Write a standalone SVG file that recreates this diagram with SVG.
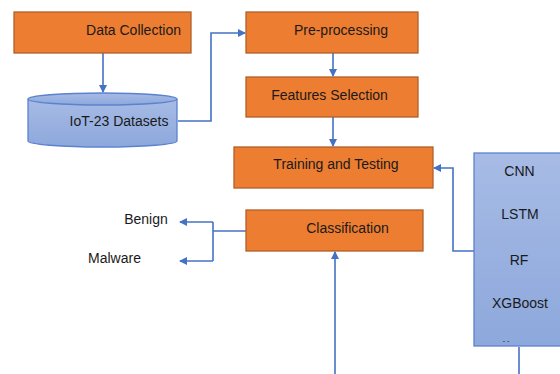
<svg xmlns="http://www.w3.org/2000/svg" width="560" height="374" viewBox="0 0 560 374">
<defs>
<linearGradient id="blueg" x1="0" y1="0" x2="0" y2="1">
<stop offset="0" stop-color="#A7BBE5"/>
<stop offset="1" stop-color="#8DA8DC"/>
</linearGradient>
<marker id="ah" markerWidth="8" markerHeight="8" refX="7" refY="4" orient="auto" markerUnits="userSpaceOnUse">
<path d="M0,0 L8,4 L0,8 Z" fill="#4472C4"/>
</marker>
<style>
.box{fill:#ED7D31;stroke:#B0602A;stroke-width:1.3}
.blue{fill:url(#blueg);stroke:#5B82CF;stroke-width:1.3}
.t{font-family:"Liberation Sans",Arial,sans-serif;font-size:14px;fill:#1a1a1a;text-anchor:middle}
.c{fill:none;stroke:#4472C4;stroke-width:1.6}
</style>
</defs>
<rect width="560" height="374" fill="#ffffff"/>
<g id="connectors">
<path class="c" d="M103,53 V92" marker-end="url(#ah)"/>
<path class="c" d="M178,121 H211 V33 H245" marker-end="url(#ah)"/>
<path class="c" d="M333,53 V76" marker-end="url(#ah)"/>
<path class="c" d="M333,117 V146" marker-end="url(#ah)"/>
<path class="c" d="M474,251 H453 V168 H434" marker-end="url(#ah)"/>
<path class="c" d="M519,347 V374"/>
<path class="c" d="M335,374 V252" marker-end="url(#ah)"/>
<path class="c" d="M246,231 H213"/>
<path class="c" d="M213,222 V261"/>
<path class="c" d="M213,222 H180" marker-end="url(#ah)"/>
<path class="c" d="M213,261 H180" marker-end="url(#ah)"/>
</g>
<g id="data-collection">
<rect class="box" x="14" y="12" width="177" height="41"/>
<text class="t" x="133.5" y="35">Data Collection</text>
</g>
<g id="iot23-datasets">
<path class="blue" d="M28,99 V141 A74.5,6 0 0 0 177,141 V99"/>
<ellipse class="blue" cx="102.5" cy="99" rx="74.5" ry="6"/>
<text class="t" x="119" y="126">IoT-23 Datasets</text>
</g>
<g id="pre-processing">
<rect class="box" x="246" y="12" width="172" height="41"/>
<text class="t" x="341" y="35">Pre-processing</text>
</g>
<g id="features-selection">
<rect class="box" x="246" y="77" width="172" height="40"/>
<text class="t" x="329.5" y="100">Features Selection</text>
</g>
<g id="training-testing">
<rect class="box" x="234" y="147" width="199" height="41"/>
<text class="t" x="336" y="169">Training and Testing</text>
</g>
<g id="classification">
<rect class="box" x="246" y="210" width="177" height="41"/>
<text class="t" x="347.5" y="233">Classification</text>
</g>
<g id="benign">
<text class="t" x="146" y="224">Benign</text>
</g>
<g id="malware">
<text class="t" x="114.5" y="263">Malware</text>
</g>
<g id="models">
<rect class="blue" x="474" y="153" width="94" height="193"/>
<text class="t" x="519.5" y="176">CNN</text>
<text class="t" x="520" y="219">LSTM</text>
<text class="t" x="519" y="265">RF</text>
<text class="t" x="520" y="308">XGBoost</text>
<text class="t" x="506" y="343" style="font-size:7px">-    -</text>
</g>
</svg>
